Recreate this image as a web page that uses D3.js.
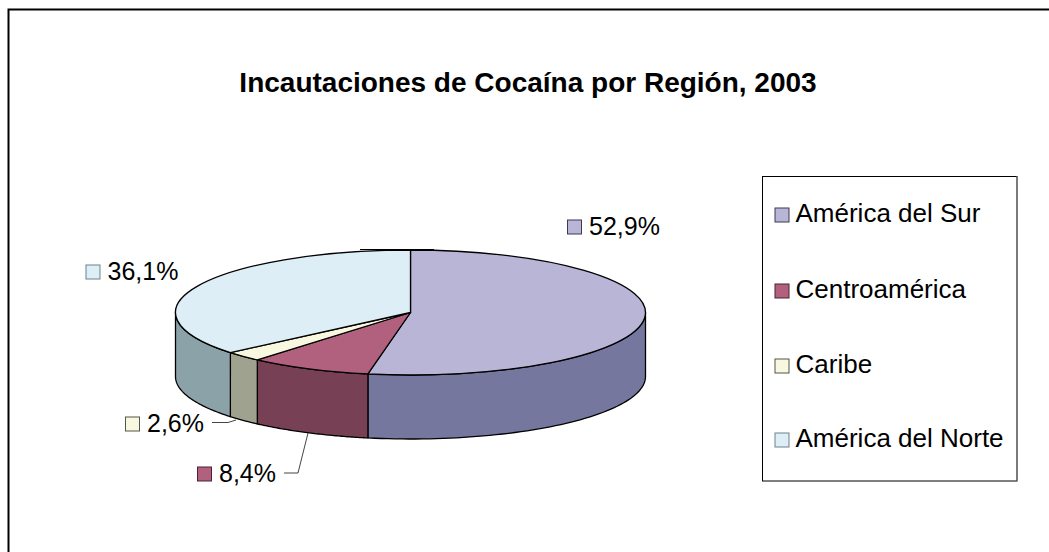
<!DOCTYPE html>
<html>
<head>
<meta charset="utf-8">
<script src="https://cdnjs.cloudflare.com/ajax/libs/d3/7.8.5/d3.min.js"></script>
<style>
html,body{margin:0;padding:0;background:#fff}
svg{display:block}
text{font-family:"Liberation Sans",Arial,sans-serif;fill:#000}
</style>
</head>
<body>
<script>
const titleText = "Incautaciones de Cocaína por Región, 2003";
const categories = ["América del Sur", "Centroamérica", "Caribe", "América del Norte"];
const shares = [52.9, 8.4, 2.6, 36.1];

const topColors = ["#B9B5D6", "#B1617D", "#F8F8E0", "#DDEEF6"];
const sideColors = ["#75779F", "#774055", "#A0A290", "#8CA2A9"];
const swatchStroke = ["#3a3a55", "#4a2233", "#55554a", "#6f8088"];

const W = 1049, H = 552;
const cx = 410.5, cy = 312.5, rx = 235, ry = 62.5, depth = 64;
const labelPos = [[567, 235], [197, 482], [125, 432], [85.5, 280]];
const legendBaselines = [222, 298, 373, 447];

const svg = d3.select("body").append("svg").attr("width", W).attr("height", H);

// page frame
svg.append("path").attr("d", `M8.5,${H}V9.5H${W}`).attr("fill", "none").attr("stroke", "#000").attr("stroke-width", 2);

svg.append("text").attr("x", 528).attr("y", 92).attr("text-anchor", "middle")
  .attr("font-size", 28).attr("font-weight", "bold").text(titleText);

const pie = d3.pie().value(d => d).sort(null);
const arcs = pie(shares);

// projection of a pie angle (clockwise from 12 o'clock) onto the tilted ellipse
const px = a => cx + rx * Math.sin(a);
const py = (a, dz = 0) => cy - ry * Math.cos(a) + dz;

// side walls
const lo = Math.PI / 2, hi = 3 * Math.PI / 2;
const line = d3.line();
arcs.forEach((s, i) => {
  const a0 = Math.max(s.startAngle, lo), a1 = Math.min(s.endAngle, hi);
  if (a1 <= a0) return;
  const steps = d3.range(0, 61).map(k => a0 + (a1 - a0) * k / 60);
  const pts = steps.map(a => [px(a), py(a)])
    .concat(steps.slice().reverse().map(a => [px(a), py(a, depth)]));
  svg.append("path").attr("d", line(pts) + "Z")
    .attr("fill", sideColors[i]).attr("stroke", "#000").attr("stroke-width", 1.3)
    .attr("stroke-linejoin", "round");
});

// top faces
const arc = d3.arc().innerRadius(0).outerRadius(rx);
const topG = svg.append("g").attr("transform", `translate(${cx},${cy}) scale(1,${ry / rx})`);
topG.selectAll("path").data(arcs).join("path")
  .attr("d", arc)
  .attr("fill", (d, i) => topColors[i])
  .attr("stroke", "#000").attr("stroke-width", 1.3)
  .attr("stroke-linejoin", "round")
  .attr("vector-effect", "non-scaling-stroke");

// stray line at the top of the pie, as in the source
svg.append("line").attr("x1", 360).attr("x2", 434).attr("y1", 249.5).attr("y2", 249.5)
  .attr("stroke", "#000").attr("stroke-width", 1);

// leader lines
const leaders = [[[212, 422.5], [228, 422.5], [236, 420]], [[284, 473], [298, 473], [308, 433]]];
leaders.forEach(p => svg.append("path").attr("d", line(p)).attr("fill", "none")
  .attr("stroke", "#444").attr("stroke-width", 1));

// data labels
const fmt = v => d3.format(".1f")(v).replace(".", ",") + "%";
const swatch = (x, y, i) => svg.append("rect").attr("x", x + .5).attr("y", y + .5)
  .attr("width", 14).attr("height", 14).attr("fill", topColors[i])
  .attr("stroke", swatchStroke[i]).attr("stroke-width", 1);

shares.forEach((v, i) => {
  const [x, y] = labelPos[i];
  swatch(x, y - 15.5, i);
  svg.append("text").attr("x", x + 22).attr("y", y).attr("font-size", 25).text(fmt(v));
});

// legend
svg.append("rect").attr("x", 762.5).attr("y", 176.5).attr("width", 254.5).attr("height", 304.5)
  .attr("fill", "none").attr("stroke", "#000").attr("stroke-width", 1);
svg.append("line").attr("x1", 1017).attr("x2", 1017).attr("y1", 176).attr("y2", 481)
  .attr("stroke", "#777").attr("stroke-width", 1);
categories.forEach((c, i) => {
  const y = legendBaselines[i];
  swatch(774.5, y - 14.5, i);
  svg.append("text").attr("x", 795.5).attr("y", y).attr("font-size", 26).text(c);
});
</script>
</body>
</html>
